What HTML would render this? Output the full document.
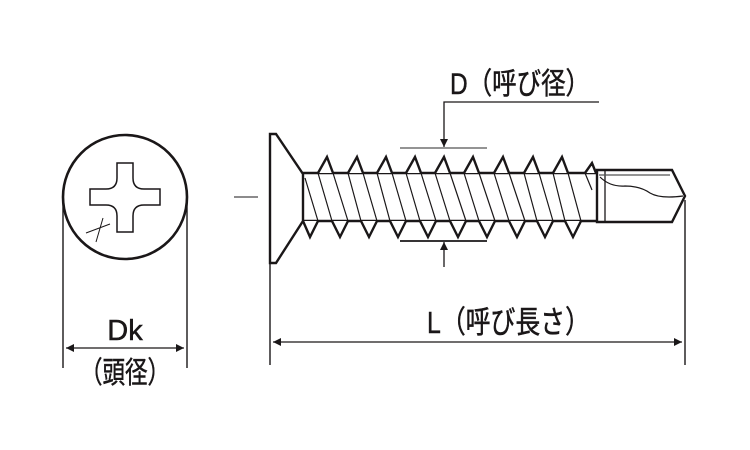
<!DOCTYPE html>
<html><head><meta charset="utf-8"><style>
html,body{margin:0;padding:0;background:#fff;}
svg{display:block;}
text{font-family:"Liberation Sans","Noto Sans CJK JP",sans-serif;fill:#1a1718;stroke:#1a1718;stroke-width:0.5;}
</style></head><body>
<svg width="750" height="450" viewBox="0 0 750 450" xmlns="http://www.w3.org/2000/svg">
<defs>
<marker id="ar" viewBox="0 0 10 10" refX="10" refY="5" markerWidth="11" markerHeight="8" markerUnits="userSpaceOnUse" orient="auto-start-reverse">
<path d="M0,0 L10,5 L0,10 z" fill="#1a1718"/></marker>
</defs>
<g stroke="#1a1718" fill="none">
<circle cx="125" cy="197" r="62" stroke-width="2.6"/>
<path d="M117,163 H133 V178 Q133,189 144,189 H160 V205 H144 Q133,205 133,216 V232 H117 V216 Q117,205 106,205 H90 V189 H106 Q117,189 117,178 Z" stroke-width="1.5"/>
<path d="M86,233 L110,224 M96,242 L103,218" stroke-width="1"/>
<line x1="63" y1="200" x2="63" y2="368" stroke-width="1.4"/>
<line x1="187" y1="200" x2="187" y2="368" stroke-width="1.4"/>
<line x1="66" y1="348" x2="184" y2="348" stroke-width="1.3" marker-start="url(#ar)" marker-end="url(#ar)"/>
<line x1="234" y1="197" x2="258" y2="197" stroke-width="1"/>
<path d="M270,134 H276 L303,174 V221 L276,263 H270 Z" stroke-width="2.4"/>
<line x1="303" y1="173" x2="597" y2="173" stroke-width="2.4"/>
<line x1="303" y1="221" x2="597" y2="221" stroke-width="2.4"/>
<path d="M318,173 L327,157 L333,173 M348,173 L357,157 L363,173 M377,173 L386,157 L392,173 M406,173 L415,157 L421,173 M435,173 L444,157 L450,173 M464,173 L473,157 L479,173 M494,173 L503,157 L509,173 M524,173 L533,157 L539,173 M553,173 L562,157 L568,173 M585,173 L592,163 L596,173" stroke-width="2.4" fill="#fff"/>
<path d="M303,221 L310,237 L318,221 M332,221 L340,237 L348,221 M361,221 L369,237 L377,221 M390,221 L398,237 L406,221 M420,221 L428,237 L436,221 M450,221 L458,237 L466,221 M479,221 L487,237 L495,221 M509,221 L517,237 L525,221 M537,221 L545,237 L553,221 M565,221 L573,237 L581,221" stroke-width="2.4" fill="#fff"/>
<path d="M305,178 L318,221 M318,173 L332,221 M333,173 L348,221 M348,173 L361,221 M363,173 L377,221 M377,173 L390,221 M392,173 L406,221 M406,173 L420,221 M421,173 L436,221 M435,173 L450,221 M450,173 L466,221 M464,173 L479,221 M479,173 L495,221 M494,173 L509,221 M509,173 L525,221 M524,173 L537,221 M539,173 L553,221 M553,173 L565,221 M568,173 L581,221 M585,173 L592,190" stroke-width="1.2"/>
<path d="M597,170 H672 L685,196 L672,222 H597 Z" stroke-width="2.4" fill="#fff"/>
<line x1="605" y1="171" x2="605" y2="221" stroke-width="1.3"/>
<line x1="599" y1="175" x2="670" y2="175" stroke-width="1.3" stroke="#555"/>
<path d="M600,177 Q610,187 625,186 Q640,186 650,193 Q660,199 683,196" stroke-width="1.2"/>
<line x1="400" y1="148" x2="487" y2="148" stroke-width="1.2" stroke="#555"/>
<line x1="400" y1="241" x2="487" y2="241" stroke-width="1.8"/>
<path d="M599,102 H444 V147" stroke-width="1.3" marker-end="url(#ar)"/>
<line x1="444" y1="267" x2="444" y2="242" stroke-width="1.3" marker-end="url(#ar)"/>
<line x1="270" y1="263" x2="270" y2="365" stroke-width="1.4"/>
<line x1="685" y1="200" x2="685" y2="365" stroke-width="1.4"/>
<line x1="273" y1="342" x2="682" y2="342" stroke-width="1.3" marker-start="url(#ar)" marker-end="url(#ar)"/>
</g>
<text x="450" y="94" font-size="30" textLength="140" lengthAdjust="spacingAndGlyphs">D（呼び径）</text>
<text x="427" y="333" font-size="31" textLength="163" lengthAdjust="spacingAndGlyphs">L（呼び長さ）</text>
<text x="125" y="340" font-size="29" text-anchor="middle">Dk</text>
<text x="80" y="383" font-size="30" textLength="90" lengthAdjust="spacingAndGlyphs">（頭径）</text>
</svg>
</body></html>
